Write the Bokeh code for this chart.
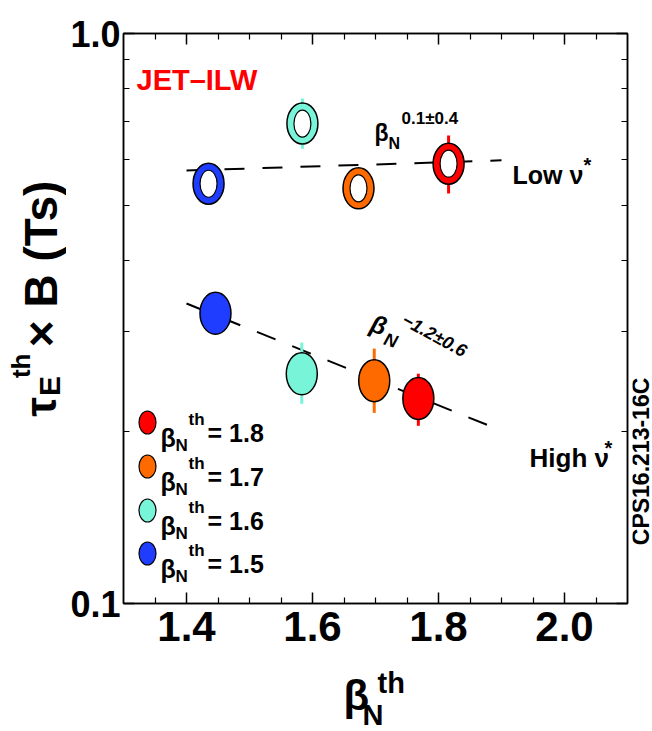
import math
from bokeh.plotting import figure
from bokeh.layouts import row, column
from bokeh.models import (FixedTicker, PrintfTickFormatter, LinearAxis, LogAxis,
                          Label, ColumnDataSource, Range1d)
from bokeh.embed import file_html
from bokeh.resources import INLINE

# ---------------- data ----------------
beta_th = [1.5, 1.6, 1.7, 1.8]
colors = ["#1f3dff", "#78f5d8", "#ff6a00", "#ff0000"]

# low collisionality (open symbols)
x_low = [1.435, 1.584, 1.673, 1.816]
y_low = [0.545, 0.695, 0.535, 0.591]
y_low_lo = [0.53, 0.628, 0.52, 0.524]
y_low_hi = [0.56, 0.769, 0.55, 0.662]

# high collisionality (filled symbols)
x_high = [1.446, 1.583, 1.698, 1.768]
y_high = [0.323, 0.253, 0.246, 0.229]
y_high_lo = [0.30, 0.224, 0.216, 0.205]
y_high_hi = [0.35, 0.287, 0.280, 0.253]

# fits
fit_x = [1.40, 1.90]
fit_low_y = [0.575, 0.599]
fit_high_y = [0.336, 0.201]

x_ticks = [1.4, 1.6, 1.8, 2.0]
x_minor = [1.35, 1.45, 1.5, 1.55, 1.65, 1.7, 1.75, 1.85, 1.9, 1.95, 2.05]
y_ticks = [0.1, 1.0]
y_minor = [0.2, 0.3, 0.4, 0.5, 0.6, 0.7, 0.8, 0.9]

X0, X1 = 1.30, 2.10
Y0, Y1 = 0.1, 1.0
# page layout (pixels)
PW, PH = 652, 731
LW = 66          # left strip (y title)
RW = 20          # right strip (code)
BH = 66          # bottom strip (x title)
L, T, W, H = 123, 33, 504, 570   # frame in page pixels

SANS = "Liberation Sans"


def dx(px):
    return X0 + (px - L) * (X1 - X0) / W


def dy(py):
    return 10 ** (math.log10(Y1) - (py - T) * (math.log10(Y1) - math.log10(Y0)) / H)


MW = PW - LW - RW
MH = PH - BH
p = figure(width=MW, height=MH, x_range=(X0, X1), y_range=(Y0, Y1),
           y_axis_type="log", output_backend="svg", toolbar_location=None,
           title_location=None,
           min_border_left=L - LW, min_border_right=MW - (L - LW) - W,
           min_border_top=T, min_border_bottom=MH - T - H, margin=0)
p.xgrid.visible = False
p.ygrid.visible = False
p.outline_line_color = "black"
p.outline_line_width = 1.5
p.background_fill_color = "white"
p.border_fill_color = "white"

xt = FixedTicker(ticks=x_ticks, minor_ticks=x_minor)
yt = FixedTicker(ticks=y_ticks, minor_ticks=y_minor)

bottom = p.below[0]
left = p.left[0]
bottom.ticker = xt
left.ticker = yt
bottom.formatter = PrintfTickFormatter(format="%.1f")
left.formatter = PrintfTickFormatter(format="%.1f")

top = LinearAxis(ticker=xt)
right = LogAxis(ticker=yt)
p.add_layout(top, "above")
p.add_layout(right, "right")

for ax in [bottom, left, top, right]:
    ax.axis_line_color = "black"
    ax.axis_line_width = 1.5
    ax.major_tick_in = 11
    ax.major_tick_out = 0
    ax.minor_tick_in = 6
    ax.minor_tick_out = 0
    ax.major_tick_line_width = 1.5
    ax.minor_tick_line_width = 1.2
    ax.major_tick_line_color = "black"
    ax.minor_tick_line_color = "black"
    ax.major_label_text_font = SANS
    ax.major_label_text_font_style = "bold"
    ax.major_label_text_font_size = "42px"
    ax.major_label_text_color = "black"

left.major_label_text_font_size = "36px"
left.major_label_standoff = 3
bottom.major_label_standoff = 8
for ax in [top, right]:
    ax.major_label_text_font_size = "1px"
    ax.major_label_text_alpha = 0.0
    ax.major_label_standoff = 0

# fit lines
p.line(fit_x, fit_low_y, line_color="black", line_width=2, line_dash="20 18")
p.line(fit_x, fit_high_y, line_color="black", line_width=2, line_dash="20 18")

# error bars
p.segment(x0=x_low, y0=y_low_lo, x1=x_low, y1=y_low_hi, line_color=colors, line_width=3)
p.segment(x0=x_high, y0=y_high_lo, x1=x_high, y1=y_high_hi, line_color=colors, line_width=3)

# low nu*: open rings
src_low = ColumnDataSource(dict(x=x_low, y=y_low, c=colors))
p.ellipse(x="x", y="y", width=31, height=41, width_units="screen", height_units="screen",
          fill_color="c", line_color="black", line_width=1.5, source=src_low)
p.ellipse(x="x", y="y", width=17, height=27, width_units="screen", height_units="screen",
          fill_color="white", line_color="black", line_width=1.2, source=src_low)

# high nu*: filled
src_high = ColumnDataSource(dict(x=x_high, y=y_high, c=colors))
p.ellipse(x="x", y="y", width=31, height=42, width_units="screen", height_units="screen",
          fill_color="c", line_color="black", line_width=1.5, source=src_high)


def lab(fig, text, x, y, size, style="bold", color="black", angle=0.0):
    fig.add_layout(Label(x=x, y=y, text=text, text_font=SANS,
                         text_font_size=f"{size}px", text_font_style=style,
                         text_color=color, angle=angle, text_align="left",
                         text_baseline="alphabetic"))


def mlab(text, xp, yp, size, **kw):
    lab(p, text, dx(xp), dy(yp), size, **kw)


# legend (from beta_th, largest first)
rows = [422, 466, 510, 553]
leg_x = [dx(147)] * 4
leg_y = [dy(r) for r in rows]
leg_c = colors[::-1]
p.ellipse(x=leg_x, y=leg_y, width=17, height=23, width_units="screen", height_units="screen",
          fill_color=leg_c, line_color="black", line_width=1.2)
for r, b in zip(rows, beta_th[::-1]):
    mlab("β", 160, r + 15, 25)
    mlab("N", 175, r + 23, 17)
    mlab("th", 188, r - 3, 17)
    mlab(f"= {b:.1f}", 207, r + 10, 25)

# annotations
mlab("JET–ILW", 136, 79, 29, color="#ff0000")
mlab("β", 374, 132, 23)
mlab("N", 388, 143, 16)
mlab("0.1±0.4", 401, 118, 17)
mlab("Low ν", 512, 174, 25)
mlab("*", 583, 164, 20)
mlab("High ν", 529, 457, 26)
mlab("*", 604, 447, 20)
mlab("β", 371, 322, 25, style="bold italic", angle=-0.3)
mlab("N", 384, 338, 18, style="bold italic", angle=-0.3)
mlab("−1.2±0.6", 403, 318, 18, style="bold italic", angle=-0.5)


def strip(w, h, x0, y0):
    f = figure(width=w, height=h, x_range=Range1d(x0, x0 + w), y_range=Range1d(y0 + h, y0),
               output_backend="svg", toolbar_location=None, title_location=None,
               x_axis_location=None, y_axis_location=None,
               min_border=0, min_border_left=0, min_border_right=0,
               min_border_top=0, min_border_bottom=0, margin=0)
    f.xgrid.visible = False
    f.ygrid.visible = False
    f.outline_line_color = None
    f.background_fill_color = "white"
    f.border_fill_color = "white"
    return f


# y-axis title strip (page pixel coordinates), kept left of x = 50
fl = strip(LW, MH, 0, 0)
up = math.pi / 2
lab(fl, "τ", 40, 447, 44, angle=up)
lab(fl, "E", 49, 423, 30, angle=up)
lab(fl, "th", 20, 402, 26, angle=up)
lab(fl, "× B (Ts)", 40, 366, 46, angle=up)

# right strip with figure code
fr = strip(RW, MH, PW - RW, 0)
lab(fr, "CPS16.213-16C", 640, 597, 23, angle=up)

# x-axis title strip
fb = strip(PW, BH, 0, MH)
lab(fb, "β", 343, 695, 42)
lab(fb, "N", 362, 714, 29)
lab(fb, "th", 377, 682, 29)

layout = column(row(fl, p, fr, spacing=0, margin=0), fb, spacing=0, margin=0)

open("out.html", "w").write(file_html(layout, INLINE))
